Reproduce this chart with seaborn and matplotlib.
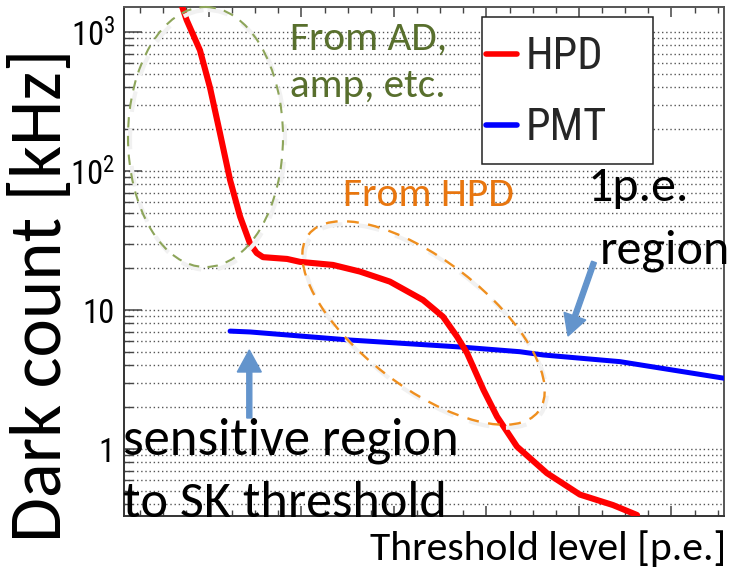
import numpy as np
import pandas as pd
import seaborn as sns
import matplotlib
matplotlib.use("Agg")
import matplotlib.pyplot as plt
import matplotlib.transforms as mtransforms
from matplotlib.patches import Ellipse, FancyArrow, Rectangle
from matplotlib.lines import Line2D
from matplotlib.ticker import MultipleLocator, FixedLocator, FixedFormatter, LogLocator, NullFormatter

# ---------------- data ----------------
hpd_x = [0.352, 0.379, 0.451, 0.505, 0.559, 0.614, 0.668, 0.722, 0.758, 0.792, 0.922,
         0.992, 1.170, 1.316, 1.478, 1.657, 1.765, 1.841, 1.895, 1.984, 2.057, 2.165,
         2.327, 2.505, 2.684, 2.814]
hpd_y = [1560, 1220, 740, 400, 188, 86, 47, 30, 25.7, 24.0, 23.3,
         22.2, 21.1, 18.9, 16.0, 11.8, 8.95, 6.43, 4.9, 2.66, 1.71, 1.04,
         0.67, 0.47, 0.395, 0.335]
pmt_x = [0.614, 0.722, 1.262, 1.857, 2.181, 2.305, 2.722, 3.284]
pmt_y = [7.05, 6.95, 6.08, 5.42, 5.01, 4.75, 4.25, 3.23]

series_names = ["HPD", "PMT"]
series_colors = ["#ff0000", "#0000ff"]
ytick_values = [1, 10, 100, 1000]
ytick_labels = ["1", "10", r"$\mathregular{10^{2}}$", r"$\mathregular{10^{3}}$"]

W, H = 733, 569

sns.set_theme(style="white")
plt.rcParams["font.family"] = ["Roboto Condensed", "Liberation Sans", "DejaVu Sans"]
plt.rcParams["mathtext.fontset"] = "custom"
plt.rcParams["mathtext.rm"] = "Roboto Condensed"
plt.rcParams["mathtext.it"] = "Roboto Condensed"

fig = plt.figure(figsize=(W / 100, H / 100), dpi=100)
fig.patch.set_facecolor("white")
ax = fig.add_axes([124 / W, 1 - 516 / H, 600 / W, (516 - 7.3) / H])

df_hpd = pd.DataFrame({"x": hpd_x, "y": hpd_y})
df_pmt = pd.DataFrame({"x": pmt_x, "y": pmt_y})
sns.lineplot(data=df_hpd, x="x", y="y", ax=ax, color=series_colors[0], linewidth=4.4,
             sort=False, estimator=None, zorder=4)
sns.lineplot(data=df_pmt, x="x", y="y", ax=ax, color=series_colors[1], linewidth=3.6,
             sort=False, estimator=None, zorder=3)

ax.set_yscale("log")
ax.set_ylim(10 ** (-67 / 139.0), 10 ** (441.7 / 139.0))
ax.set_xlim(0.0405, 3.284)
ax.set_xlabel("")
ax.set_ylabel("")

ax.xaxis.set_major_locator(MultipleLocator(0.5))
ax.xaxis.set_minor_locator(MultipleLocator(0.125))
ax.xaxis.set_major_formatter(NullFormatter())
ax.yaxis.set_major_locator(FixedLocator(ytick_values))
ax.yaxis.set_major_formatter(FixedFormatter(ytick_labels))
ax.yaxis.set_minor_locator(LogLocator(base=10, subs=np.arange(2, 10)))
ax.yaxis.set_minor_formatter(NullFormatter())

ax.tick_params(axis="x", which="major", direction="in", top=True, bottom=True,
               length=7.5, width=1.1, color="#444444", labelbottom=False)
ax.tick_params(axis="x", which="minor", direction="in", top=True, bottom=True,
               length=4, width=1.0, color="#444444")
ax.tick_params(axis="y", which="major", direction="in", left=True, right=False,
               length=13, width=1.1, color="#444444", labelsize=23.5, pad=6.5,
               labelcolor="black")
ax.tick_params(axis="y", which="minor", direction="in", left=True, right=False,
               length=6.5, width=1.0, color="#444444")

ax.yaxis.grid(True, which="both", linestyle=(0, (1, 2)), color="#555555", linewidth=1.0)
ax.xaxis.grid(False)
for s in ax.spines.values():
    s.set_color("#555555")
    s.set_linewidth(1.4)
ax.spines["left"].set_color("#333333")
ax.spines["bottom"].set_color("#333333")

# pixel transform (top-left origin, reference pixels)
pix = mtransforms.Affine2D().scale(1 / 100, -1 / 100).translate(0, H / 100) + fig.dpi_scale_trans

# legend box
fig.add_artist(Rectangle((482, 17), 171, 147, transform=pix, fill=True, fc="white",
                         ec="#222222", lw=1.1, zorder=5))
handles = [Line2D([], [], color=c, lw=4) for c in series_colors]
leg = fig.legend(handles, series_names, loc="upper left",
                 bbox_to_anchor=(484 / W, 1 - 34 / H), bbox_transform=fig.transFigure,
                 frameon=False, fontsize=32, handlelength=0.70, handletextpad=0.18,
                 labelspacing=0.65, borderpad=0.05, borderaxespad=0)
leg.set_zorder(6)

# ellipses (with a faint shadow like the reference)
fig.add_artist(Ellipse((207.5, 140), 155, 260, angle=0, transform=pix, fill=False,
                       ec="#f1f1f1", lw=3.0, ls=(0, (5, 4)), zorder=1))
fig.add_artist(Ellipse((425.5, 326), 290, 127, angle=37.6, transform=pix, fill=False,
                       ec="#f1f1f1", lw=3.0, ls=(0, (5, 4)), zorder=1))
fig.add_artist(Ellipse((205.5, 137), 155, 260, angle=0, transform=pix, fill=False,
                       ec="#8da55a", lw=1.5, ls=(0, (5, 4)), zorder=2))
fig.add_artist(Ellipse((423.5, 323), 290, 127, angle=37.6, transform=pix, fill=False,
                       ec="#ef8f1f", lw=1.7, ls=(0, (5, 4)), zorder=2))

# arrows
arrow_col = "#6394cc"
fig.add_artist(FancyArrow(249.3, 418, 0, -68, width=5, head_width=24, head_length=22,
                          length_includes_head=True, transform=pix, color=arrow_col, zorder=3))
fig.add_artist(FancyArrow(594, 262, -26, 74, width=5, head_width=23, head_length=21,
                          length_includes_head=True, transform=pix, color=arrow_col, zorder=3))

# text annotations, sized to span the widths seen in the reference
cal = ["Carlito", "Open Sans", "DejaVu Sans"]
renderer = fig.canvas.get_renderer()

def fit_text(s, x0, x1, baseline, color, zorder=7):
    t = fig.text(x0 / W, 1 - baseline / H, s, family=cal, fontsize=20, color=color,
                 ha="left", va="baseline", zorder=zorder)
    w = t.get_window_extent(renderer).width
    t.set_fontsize(20 * (x1 - x0) / w)
    return t

fit_text("From AD,", 290, 447, 50, "#586f2d")
fit_text("amp, etc.", 290, 446, 97, "#586f2d")
fit_text("From HPD", 343, 514, 206, "#e8760f")
fit_text("1p.e.", 588, 690, 201, "black")
fit_text("region", 600, 730, 263, "black")
fit_text("sensitive region", 123, 458, 454, "black")
fit_text("to SK threshold", 123, 447, 517, "black")
fit_text("Threshold level [p.e.]", 370, 727, 560, "black")

# y label: vertical extent 48..542, baseline near x = 60
yl = fig.text(61 / W, 1 - 295 / H, "Dark count [kHz]", family=cal, fontsize=20,
              rotation=90, rotation_mode="anchor", ha="center", va="baseline", color="black")
hgt = yl.get_window_extent(renderer).height
yl.set_fontsize(20 * 494 / hgt)

fig.savefig("out.png", dpi=100, facecolor="white")
